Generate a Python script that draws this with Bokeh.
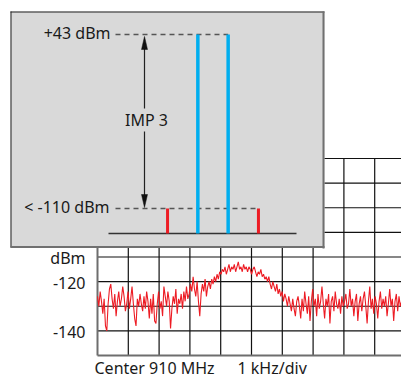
import numpy as np
from bokeh.plotting import figure
from bokeh.models import Range1d
from bokeh.core.properties import value
from bokeh.embed import file_html
from bokeh.resources import INLINE

# ---------------- data ----------------
freq_ticks_khz = list(range(-5, 6))            # 1 kHz/div around centre
level_ticks_dbm = list(range(-150, -60, 10))   # 10 dB/div
y_label_values = [-110, -120, -140]
y_label_texts = ["dBm", "-120", "-140"]
footer_texts = ["Center 910 MHz", "1 kHz/div"]

trace_start_khz = -5.0
trace_end_khz = 4.875
trace_dbm = [
    # -5 .. -2 kHz : noise floor
    -126, -130, -124, -128, -133, -127, -138, -140, -129, -123,
    -121, -127, -131, -125, -134, -128, -124, -130, -127, -122,
    -126, -132, -129, -124, -131, -127, -122, -129, -135, -138,
    -127, -130, -125, -129, -132, -126, -131, -124, -128, -135,
    -127, -133, -125, -136, -137, -129, -124, -131, -128, -134,
    -122, -126, -130, -124, -128, -139, -131, -126, -129, -123,
    -133, -127, -129, -125, -131, -124, -128, -122, -127, -125,
    # -2 .. -1 kHz : rising edge
    -121, -124, -118, -123, -126, -120, -128, -134, -125, -121,
    -124, -119, -126, -122, -120, -123, -119, -121, -118, -120,
    -117, -119, -116,
    # -1 .. 0.35 kHz : hump
    -117, -115, -116, -114, -117, -115, -113, -116, -114, -115,
    -113, -116, -114, -112, -115, -114, -116, -113, -115, -114,
    -116, -114, -115, -117, -115, -114, -116, -118, -116, -117,
    -115, -118,
    # 0.35 .. 1.5 kHz : falling edge
    -117, -119, -118, -120, -118, -121, -123, -120, -122, -124,
    -121, -125, -123, -126, -124, -128, -125, -127, -130, -126,
    -129, -132, -127, -131, -134, -128,
    # 1.5 .. 4.9 kHz : noise floor
    -126, -130, -135, -127, -132, -124, -129, -133, -126, -136,
    -128, -123, -130, -127, -134, -125, -131, -128, -122, -129,
    -135, -127, -130, -125, -137, -128, -126, -132, -124, -129,
    -131, -127, -133, -126, -130, -128, -125, -131, -129, -123,
    -130, -127, -134, -128, -125, -136, -129, -126, -132, -127,
    -124, -130, -137, -128, -122, -131, -127, -133, -126, -129,
    -135, -128, -124, -131, -127, -130, -126, -134, -129, -123,
    -130, -127, -136, -128, -125, -132, -126, -130, -128,
]

# inset diagram: positions in units of tone spacing, levels in dBm
tone_offsets = [-0.5, 0.5]
tone_dbm = [43, 43]
imd_offsets = [-1.5, 1.5]
imd_dbm = [-110, -110]
level_values = [43, -110]
level_texts = ["+43 dBm", "< -110 dBm"]
imp_text = "IMP 3"

# ---------------- layout ----------------
FW, FH = 401, 380
GX0, GDX = 97.0, 30.8      # px of -5 kHz, px per kHz
GY0, GDY = 355.0, 24.625   # px of -150 dBm, px per 10 dB
IX0, IDX = 212.5, 30.3     # inset: px of centre, px per tone spacing
IY0, IDB = 208.0, 0.8793   # inset: px of -110 dBm, dB per px

def mx(px):
    return -5 + (px - GX0) / GDX

def my(py):
    return -150 + (GY0 - py) / GDY * 10

def ix(px):
    return (px - IX0) / IDX

def iy(py):
    return -110 + (IY0 - py) * IDB

def ipy(dbm):
    return IY0 - (dbm + 110) / IDB

FONT = value("Noto Sans")
FS = "16px"
TXT = "#1a1a1a"

p = figure(width=FW, height=FH, output_backend="svg", toolbar_location=None,
           x_axis_type=None, y_axis_type=None, min_border=0,
           x_range=Range1d(mx(0), mx(FW)), y_range=Range1d(my(FH), my(0)))
p.outline_line_color = None
p.background_fill_color = "white"
p.border_fill_color = "white"
p.extra_x_ranges = {"ix": Range1d(ix(0), ix(FW))}
p.extra_y_ranges = {"iy": Range1d(iy(FH), iy(0))}

# ---- spectrum grid ----
xmin, xmax = freq_ticks_khz[0], freq_ticks_khz[-1]
ymin, ymax = level_ticks_dbm[0], level_ticks_dbm[-1]
xi = freq_ticks_khz[1:]
p.segment(x0=xi, x1=xi, y0=[ymin] * len(xi), y1=[ymax] * len(xi),
          line_color="#111111", line_width=1.2)
yi = level_ticks_dbm[1:]
p.segment(x0=[xmin] * len(yi), x1=[xmax] * len(yi), y0=yi, y1=yi,
          line_color="#111111", line_width=1.2)
p.segment(x0=[xmin, xmin], x1=[xmin, xmax], y0=[ymin, ymin], y1=[ymax, ymin],
          line_color="#6e6e6e", line_width=2)

# ---- trace ----
trace_khz = np.linspace(trace_start_khz, trace_end_khz, len(trace_dbm))
p.line(trace_khz, trace_dbm, line_color="#ed1c24", line_width=1.1)

# ---- y labels and footer ----
p.text(x=[xmin] * len(y_label_values), y=y_label_values, text=y_label_texts,
       x_offset=-12, y_offset=1, text_align="right", text_baseline="middle",
       text_font=FONT, text_font_size="16px", text_color=TXT)
p.text(x=[mx(94), mx(237)], y=[ymin, ymin], text=footer_texts,
       y_offset=12, text_align="left", text_baseline="middle",
       text_font=FONT, text_font_size=FS, text_color=TXT)

# ---- inset box ----
R = dict(x_range_name="ix", y_range_name="iy")
p.quad(left=ix(10), right=ix(324), top=iy(11), bottom=iy(247),
       fill_color="#d9d9d9", line_color=None, **R)
p.segment(x0=[ix(10.5), ix(10)], x1=[ix(10.5), ix(324)],
          y0=[iy(11), iy(11.5)], y1=[iy(247), iy(11.5)],
          line_color="#222222", line_width=1, **R)
p.segment(x0=[ix(323), ix(10)], x1=[ix(323), ix(324)],
          y0=[iy(11), iy(246.5)], y1=[iy(248), iy(246.5)],
          line_color="#707070", line_width=2, **R)

base_dbm = iy(233)
dash_start = ix(115)

# dashed level lines
p.segment(x0=[dash_start, dash_start], x1=[max(tone_offsets), max(imd_offsets)],
          y0=level_values, y1=level_values,
          line_color="#555555", line_width=1.3, line_dash="5 4", **R)
# level labels
p.text(x=[dash_start, dash_start], y=level_values, text=level_texts,
       x_offset=[-5, -6], y_offset=[-1, -2], text_align="right",
       text_baseline="middle", text_font=FONT, text_font_size=FS,
       text_color=TXT, **R)

# baseline
p.line([ix(108), ix(296)], [base_dbm, base_dbm], line_color="#333333",
       line_width=1.5, **R)

# tones and IMD products
p.segment(x0=tone_offsets, x1=tone_offsets, y0=[base_dbm] * 2, y1=tone_dbm,
          line_color="#00aeef", line_width=3.5, **R)
p.segment(x0=imd_offsets, x1=imd_offsets, y0=[base_dbm] * 2, y1=imd_dbm,
          line_color="#ed1c24", line_width=3, **R)

# IMP 3 arrow
ax = 144
top_tip = ipy(level_values[0]) + 2
bot_tip = ipy(level_values[1]) - 1
head_len, head_hw = 13, 3
p.segment(x0=[ix(ax)] * 2, x1=[ix(ax)] * 2,
          y0=[iy(top_tip + head_len - 1), iy(131)],
          y1=[iy(108), iy(bot_tip - head_len + 1)],
          line_color="#222222", line_width=1.2, **R)
p.patches(xs=[[ix(ax), ix(ax - head_hw), ix(ax + head_hw)]] * 2,
          ys=[[iy(top_tip), iy(top_tip + head_len), iy(top_tip + head_len)],
              [iy(bot_tip), iy(bot_tip - head_len), iy(bot_tip - head_len)]],
          fill_color="#111111", line_color="#111111", line_width=0.5, **R)
p.text(x=[ix(146)], y=[iy(119)], text=[imp_text], text_align="center",
       text_baseline="middle", text_font=FONT, text_font_size=FS,
       text_color=TXT, **R)

open("out.html", "w").write(file_html(p, INLINE))
